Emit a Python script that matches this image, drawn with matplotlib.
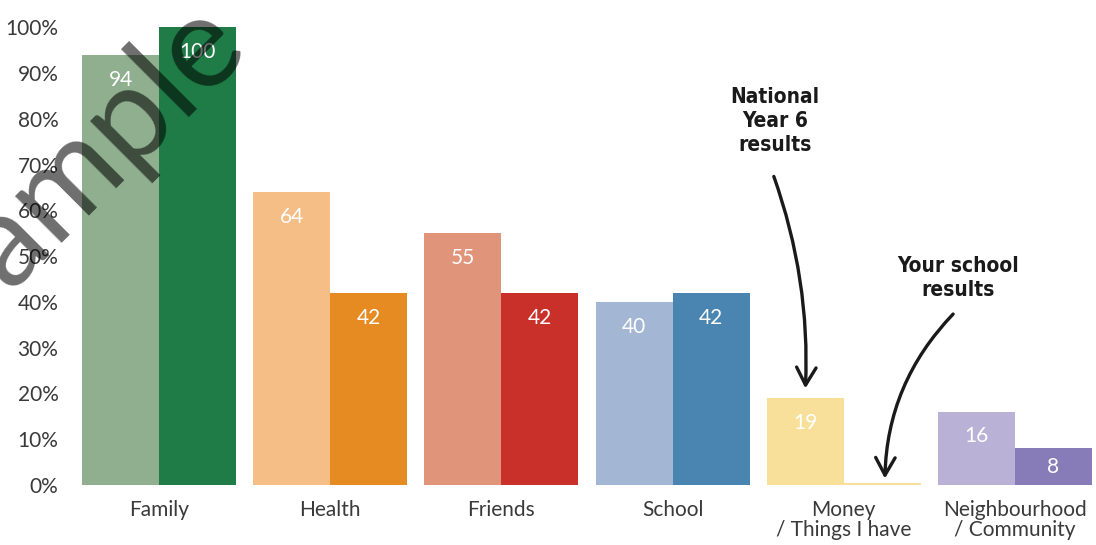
import matplotlib
matplotlib.use("Agg")
import matplotlib.pyplot as plt
from matplotlib.patches import FancyArrowPatch
import numpy as np

# Data
categories = ["Family", "Health", "Friends", "School",
              "Money\n/ Things I have", "Neighbourhood\n/ Community"]
national = [94, 64, 55, 40, 19, 16]
school = [100, 42, 42, 42, 0, 8]
yticks = [0, 10, 20, 30, 40, 50, 60, 70, 80, 90, 100]

national_colors = ["#8FAF8F", "#F4BE86", "#E0947A", "#A3B6D3", "#F8DF9A", "#BAB1D6"]
school_colors = ["#1F7C47", "#E68A22", "#C9302A", "#4A84B0", "#F8DF9A", "#877CB7"]

W, H = 1096, 545
fig = plt.figure(figsize=(W / 100, H / 100), dpi=100)
ax = fig.add_axes([82 / W, 60 / H, 1010 / W, 485 / H])

x = np.arange(len(categories))
bw = 0.45
ax.bar(x - bw / 2, national, width=bw, color=national_colors, linewidth=0)
ax.bar(x + bw / 2, school, width=bw, color=school_colors, linewidth=0)

ax.set_xlim(-0.45, len(categories) - 1 + 0.45)
ax.set_ylim(0, 106)

# Zero-height bar shown as a thin base line
for xi, v, c in zip(x, school, school_colors):
    if v == 0:
        ax.plot([xi, xi + bw], [0.15, 0.15], color=c, lw=1.5, solid_capstyle="butt")

font = "Lato"
text_color = "#3a3a3a"

# Value labels inside bars
for xs, vals in ((x - bw / 2, national), (x + bw / 2, school)):
    for xi, v in zip(xs, vals):
        if v <= 0:
            continue
        ax.text(xi, max(v - 5.4, v / 2), f"{v}", ha="center", va="center",
                color="white", fontsize=15, family=font)

ax.set_yticks(yticks)
ax.set_yticklabels([f"{t}%" for t in yticks], family=font, fontsize=15,
                   color=text_color)
ax.set_xticks(x)
ax.set_xticklabels(categories, family=font, fontsize=15, color=text_color,
                   linespacing=1.0)
ax.tick_params(axis="y", length=0, pad=17)
ax.tick_params(axis="x", length=0, pad=11)
for s in ax.spines.values():
    s.set_visible(False)

# Annotations
hand = dict(family="DejaVu Sans", fontweight="bold", fontstretch="condensed",
            fontsize=15, color="#1a1a1a", ha="center", va="center",
            linespacing=1.25)
ax.text(3.60, 79.5, "National\nYear 6\nresults", **hand)
ax.text(4.67, 45.3, "Your school\nresults", **hand)

arrow_kw = dict(arrowstyle="->,head_length=0.9,head_width=0.5", lw=2.4,
                color="#1a1a1a", mutation_scale=14, clip_on=False)
ax.add_patch(FancyArrowPatch((3.586, 68.0), (3.775, national[4] + 1.5),
                             connectionstyle="arc3,rad=-0.1", **arrow_kw))
ax.add_patch(FancyArrowPatch((4.65, 37.8), (4.24, school[4] + 0.8),
                             connectionstyle="arc3,rad=0.2", **arrow_kw))

# Watermark
fig.text(-40 / W, 1 - 340 / H, "Sample", fontsize=93, family=font,
         color="black", alpha=0.57, rotation=45, ha="left", va="baseline",
         rotation_mode="anchor")

fig.savefig("out.png", dpi=100)
